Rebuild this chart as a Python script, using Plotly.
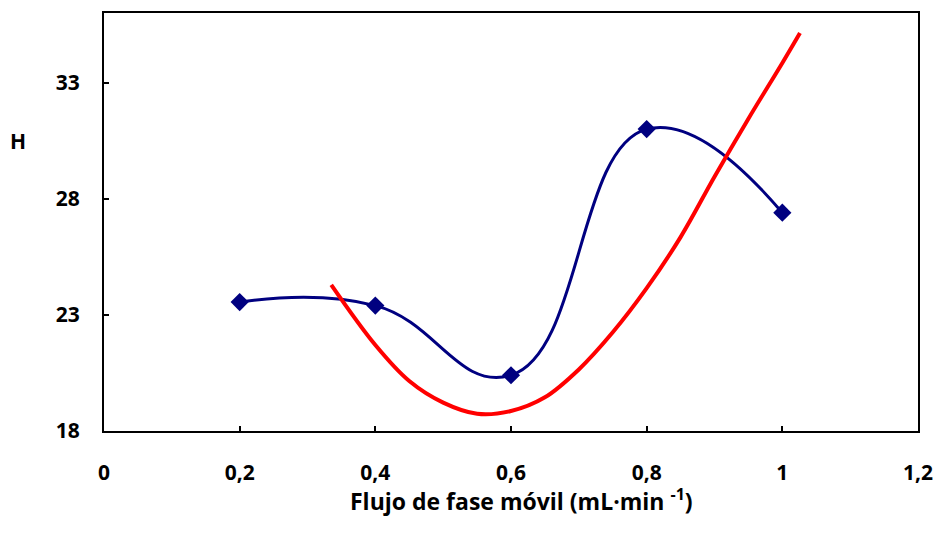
import plotly.graph_objects as go

# Measured H values at each mobile-phase flow rate
flow = [0.2, 0.4, 0.6, 0.8, 1.0]
h_values = [23.55, 23.4, 20.4, 31.0, 27.4]

# Trend curve samples
trend_flow = [0.335, 0.40, 0.45, 0.50, 0.55, 0.60, 0.65, 0.70,
              0.75, 0.80, 0.85, 0.90, 0.95, 1.00, 1.026]
trend_h = [24.29, 21.70, 20.15, 19.22, 18.74, 18.86, 19.45, 20.65,
           22.25, 24.15, 26.35, 28.95, 31.45, 33.85, 35.14]

x_ticks = [0, 0.2, 0.4, 0.6, 0.8, 1.0, 1.2]
x_tick_text = ["0", "0,2", "0,4", "0,6", "0,8", "1", "1,2"]
y_ticks = [18, 23, 28, 33]

FONT = "Open Sans"
fig = go.Figure()

fig.add_trace(go.Scatter(
    x=flow, y=h_values, mode="lines+markers",
    line=dict(color="#000080", width=3, shape="spline", smoothing=1.3),
    marker=dict(symbol="diamond", size=14, color="#000080"),
    showlegend=False,
))

fig.add_trace(go.Scatter(
    x=trend_flow, y=trend_h, mode="lines",
    line=dict(color="#FF0000", width=4, shape="spline", smoothing=1.0),
    showlegend=False,
))

axis_common = dict(
    showline=True, linecolor="black", linewidth=2, mirror=True,
    ticks="inside", ticklen=5, tickwidth=1.5, tickcolor="black",
    showgrid=False, zeroline=False, automargin=False,
    tickfont=dict(family=FONT, size=21, color="black", weight="bold"),
)

fig.update_layout(
    width=938, height=534,
    margin=dict(l=104, r=20, t=13, b=103, autoexpand=False),
    paper_bgcolor="white", plot_bgcolor="white",
    xaxis=dict(range=[0, 1.2], tickvals=x_ticks, ticktext=x_tick_text,
               ticklabelstandoff=22, **axis_common),
    yaxis=dict(range=[18, 36], tickvals=y_ticks,
               ticklabelstandoff=18, **axis_common),
    annotations=[
        dict(text="Flujo de fase móvil (mL·min <sup>-1</sup>)",
             xref="paper", yref="paper", x=0.513, y=-0.165,
             xanchor="center", yanchor="middle", showarrow=False,
             font=dict(family=FONT, size=23, color="black", weight="bold")),
        dict(text="H", xref="paper", yref="paper",
             x=(18 - 104) / 814, y=(431 - 140.5) / 418,
             xanchor="center", yanchor="middle", showarrow=False,
             font=dict(family=FONT, size=21, color="black", weight="bold")),
    ],
)

fig.write_html("out.html")
